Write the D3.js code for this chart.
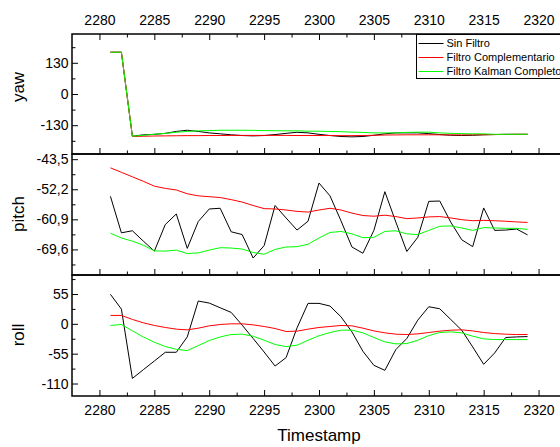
<!DOCTYPE html>
<html lang="en">
<head>
<meta charset="utf-8">
<style>
    body { margin: 0; background: #fff; }
    svg { display: block; }
    text { font-family: "Liberation Sans", Arial, sans-serif; fill: #000; }
    .tick text { font-family: "Liberation Sans", Arial, sans-serif; font-size: 14px; fill: #000; }
    .tick line { stroke: #000; stroke-width: 1; }
    .frame { fill: none; stroke: #000; stroke-width: 1.5; }
    .series { fill: none; stroke-width: 1; }
    .title { font-size: 17px; }
    .legend text { font-size: 11px; }
</style>
</head>
<body>
<svg width="560" height="447"></svg>

<script src="https://d3js.org/d3.v7.min.js"></script>
<script>
    // values
    var timestamps = [2281, 2282, 2283, 2284, 2285, 2286, 2287, 2288, 2289, 2290,
        2291, 2292, 2293, 2294, 2295, 2296, 2297, 2298, 2299, 2300,
        2301, 2302, 2303, 2304, 2305, 2306, 2307, 2308, 2309, 2310,
        2311, 2312, 2313, 2314, 2315, 2316, 2317, 2318, 2319];

    var seriesNames = ["Sin Filtro", "Filtro Complementario", "Filtro Kalman Completo"];

    var yawSin = [174, 174, -176, -170, -168, -164, -156, -151, -156, -162,
        -166, -170, -173, -174.5, -173, -169, -164, -159.5, -162, -168,
        -173, -177, -178.6, -177, -172, -166, -162, -162, -162, -165,
        -169, -172, -173, -172, -170, -169, -168, -168, -168];
    var yawComp = [174, 174, -177, -176, -175, -174.5, -174, -173.5, -173.5, -173,
        -173, -172.5, -172.5, -172.5, -172.5, -172.5, -172.5, -173, -173, -173,
        -173, -173.5, -173.5, -173, -172, -171, -170.5, -170, -170, -170,
        -170, -170.5, -170.5, -170, -169.5, -169, -168.5, -168, -168];
    var yawKalman = [174, 174, -176, -172, -168, -164, -159.5, -156, -153.5, -152.5,
        -151, -151, -151, -151.5, -152.5, -153, -153.5, -153.5, -155, -155,
        -156, -157, -159, -160, -162, -162, -162, -160, -159, -159,
        -162, -164, -165, -166, -166, -168, -168, -168, -168];

    var pitchSin = [-54.25, -64.8, -64.2, -67.2, -70.1, -62.4, -59.35, -69.3, -61.55, -57.9,
        -57.7, -64.5, -65.3, -72.1, -68.5, -56.9, -60.5, -64.0, -61.45, -50.4,
        -54.1, -61.3, -68.9, -70.7, -64.1, -52.9, -61.7, -70.2, -66.1, -55.7,
        -55.6, -61.7, -66.8, -68.8, -57.6, -64.1, -64.0, -63.7, -65.4];
    var pitchComp = [-46.0, -47.3, -48.6, -49.9, -51.3, -51.95, -52.4, -53.5, -54.1, -54.35,
        -54.6, -55.2, -55.9, -56.9, -57.8, -57.9, -58.2, -58.6, -58.8, -58.2,
        -57.7, -58.2, -59.1, -59.8, -60.0, -59.7, -60.1, -60.7, -60.5, -60.2,
        -60.1, -60.5, -61.0, -61.3, -61.2, -61.3, -61.45, -61.65, -61.8];
    var pitchKalman = [-64.9, -66.3, -67.2, -68.4, -70.0, -70.1, -69.8, -70.8, -70.6, -69.8,
        -69.1, -69.2, -69.5, -70.5, -71.0, -69.6, -68.9, -68.8, -68.1, -66.3,
        -64.7, -64.4, -65.1, -66.2, -66.1, -64.4, -64.2, -65.1, -65.3, -64.1,
        -62.9, -62.8, -63.4, -64.1, -63.3, -63.4, -63.5, -63.5, -63.8];

    var rollSin = [54.4, 27.2, -100.6, -84.5, -68.5, -52.4, -52.4, -24.1, 42.0, 38.3,
        29.6, 21.1, -2.4, -27.0, -51.9, -77.8, -62.3, -7.4, 37.7, 37.7,
        32.8, 13.0, -14.8, -50.6, -76.5, -85.7, -47.4, -27.0, 6.9, 31.5,
        27.8, 8.1, -11.7, -42.6, -74.6, -53.7, -25.2, -24.1, -23.5];
    var rollComp = [15.5, 15.5, 8.1, 1.9, -3.0, -6.7, -9.8, -11.1, -8.0, -3.7,
        -1.2, 0, 0, -1.9, -4.9, -8.6, -14.1, -13.5, -9.8, -6.7,
        -4.9, -3.0, -3.7, -8.0, -13.0, -16.6, -19.1, -19.7, -18.5, -16.0,
        -13.5, -11.7, -11.1, -13.0, -16.0, -17.9, -19.1, -19.7, -19.7];
    var rollKalman = [-3.0, -1.2, -13.0, -24.1, -33.9, -41.9, -46.9, -49.3, -40.1, -30.8,
        -24.1, -19.7, -19.1, -22.8, -30.2, -38.2, -41.9, -39.4, -30.2, -22.0,
        -16.0, -11.7, -11.7, -16.6, -25.2, -33.3, -37.0, -36.4, -30.2, -21.6,
        -16.0, -14.8, -16.6, -22.8, -27.7, -29.0, -29.0, -29.0, -29.0];

    var xTicks = [2280, 2285, 2290, 2295, 2300, 2305, 2310, 2315, 2320];
    var xMinorTicks = [2282.5, 2287.5, 2292.5, 2297.5, 2302.5, 2307.5, 2312.5, 2317.5];
    var yawTicks = [130, 0, -130];
    var yawMinorTicks = [195, 65, -65, -195];
    var pitchTicks = [-43.5, -52.2, -60.9, -69.6];
    var pitchMinorTicks = [-47.85, -56.55, -65.25, -73.95];
    var rollTicks = [55, 0, -55, -110];
    var rollMinorTicks = [82.5, 27.5, -27.5, -82.5];

    var colors = ["#000000", "#ff0000", "#00ff00"];

    var svg = d3.select("svg"),
        left = 72,
        right = 566;

    var x = d3.scaleLinear().domain([2277.5, 2322.5]).range([left, right]);

    var commaLocale = d3.formatLocale({decimal: ",", thousands: ".", grouping: [3], currency: ["", ""], minus: "-"});
    var intFormat = d3.format("d");
    var plainInt = function (d) { return intFormat(d).replace("\u2212", "-"); };

    var panels = [
        {name: "yaw", top: 34, bottom: 154, domain: [-250, 250], ticks: yawTicks, minor: yawMinorTicks,
            format: plainInt, series: [yawSin, yawComp, yawKalman], titleY: 87},
        {name: "pitch", top: 154, bottom: 275, domain: [-77, -42], ticks: pitchTicks, minor: pitchMinorTicks,
            format: commaLocale.format(".1f"), series: [pitchSin, pitchComp, pitchKalman], titleY: 214},
        {name: "roll", top: 275, bottom: 396, domain: [-133, 90], ticks: rollTicks, minor: rollMinorTicks,
            format: plainInt, series: [rollSin, rollComp, rollKalman], titleY: 335}
    ];

    function noDomain(g) { g.select(".domain").remove(); }

    panels.forEach(function (p, i) {
        var y = d3.scaleLinear().domain(p.domain).range([p.bottom, p.top]);

        // series lines
        p.series.forEach(function (values, k) {
            svg.append("path")
                .datum(values)
                .attr("class", "series")
                .attr("stroke", colors[k])
                .attr("d", d3.line()
                    .x(function (d, j) { return x(timestamps[j]); })
                    .y(function (d) { return y(d); }));
        });

        // left axis, ticks inside
        svg.append("g").attr("transform", "translate(" + left + ",0)")
            .call(d3.axisLeft(y).tickValues(p.ticks).tickSize(-6).tickPadding(3.5).tickFormat(p.format))
            .call(noDomain);
        svg.append("g").attr("transform", "translate(" + left + ",0)")
            .call(d3.axisLeft(y).tickValues(p.minor).tickSize(-3.5).tickFormat(""))
            .call(noDomain);

        // right axis, ticks only
        svg.append("g").attr("transform", "translate(" + right + ",0)")
            .call(d3.axisRight(y).tickValues(p.ticks).tickSize(-6).tickFormat(""))
            .call(noDomain);
        svg.append("g").attr("transform", "translate(" + right + ",0)")
            .call(d3.axisRight(y).tickValues(p.minor).tickSize(-3.5).tickFormat(""))
            .call(noDomain);

        // bottom x axis of this panel
        var bottomAxis = svg.append("g").attr("transform", "translate(0," + p.bottom + ")");
        bottomAxis.call(d3.axisBottom(x).tickValues(xTicks).tickSize(-6).tickPadding(9)
                .tickFormat(i === panels.length - 1 ? intFormat : ""))
            .call(noDomain);
        svg.append("g").attr("transform", "translate(0," + p.bottom + ")")
            .call(d3.axisBottom(x).tickValues(xMinorTicks).tickSize(-3.5).tickFormat(""))
            .call(noDomain);

        if (i === 0) {
            svg.append("g").attr("transform", "translate(0," + p.top + ")")
                .call(d3.axisTop(x).tickValues(xTicks).tickSize(-6).tickPadding(9).tickFormat(intFormat))
                .call(noDomain);
            svg.append("g").attr("transform", "translate(0," + p.top + ")")
                .call(d3.axisTop(x).tickValues(xMinorTicks).tickSize(-3.5).tickFormat(""))
                .call(noDomain);
        }

        svg.append("rect")
            .attr("class", "frame")
            .attr("x", left)
            .attr("y", p.top)
            .attr("width", right - left)
            .attr("height", p.bottom - p.top);

        svg.append("text")
            .attr("class", "title")
            .attr("text-anchor", "middle")
            .attr("transform", "translate(24," + p.titleY + ") rotate(-90)")
            .text(p.name);
    });

    svg.append("text")
        .attr("class", "title")
        .attr("text-anchor", "middle")
        .attr("x", (left + right) / 2)
        .attr("y", 441)
        .text("Timestamp");

    // legend, cut by the right border like the original
    var legend = svg.append("g")
        .attr("class", "legend")
        .attr("transform", "translate(416.5,34.5)");

    legend.append("rect")
        .attr("width", 160)
        .attr("height", 44)
        .attr("fill", "#fff")
        .attr("stroke", "#000")
        .attr("stroke-width", 1);

    var item = legend.selectAll(".item")
        .data(seriesNames)
        .enter()
        .append("g")
        .attr("class", "item")
        .attr("transform", function (d, i) { return "translate(0," + (9 + i * 14) + ")"; });

    item.append("line")
        .attr("x1", 2)
        .attr("x2", 27)
        .attr("stroke", function (d, i) { return colors[i]; })
        .attr("stroke-width", 1);

    item.append("text")
        .attr("x", 30)
        .attr("dy", "0.35em")
        .text(function (d) { return d; });
</script>
</body>
</html>
